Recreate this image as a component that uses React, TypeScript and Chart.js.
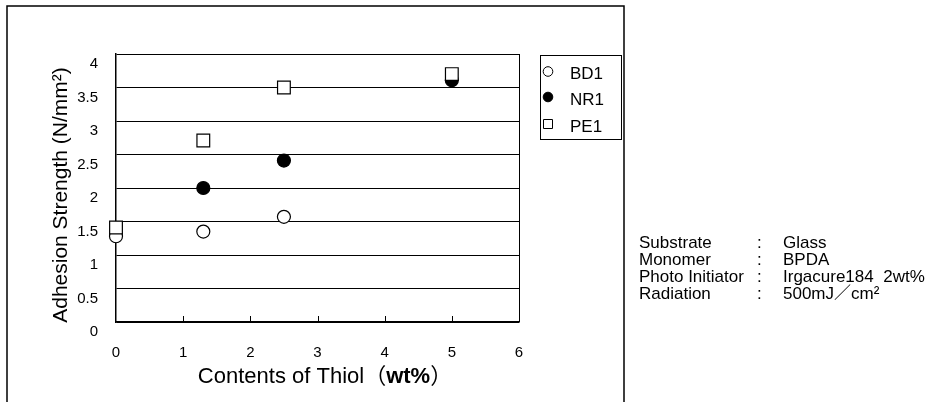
import { useEffect, useRef } from "react";
import { Chart, registerables } from "chart.js";

Chart.register(...registerables);

// Thiol content (wt%) and adhesion strength (N/mm²) per resin
const bd1X = [0, 1.3, 2.5];
const bd1Y = [1.28, 1.35, 1.57];
const nr1X = [1.3, 2.5, 5];
const nr1Y = [2.0, 2.41, 3.61];
const pe1X = [0, 1.3, 2.5, 5];
const pe1Y = [1.41, 2.71, 3.5, 3.7];

const seriesNames = ["BD1", "NR1", "PE1"];

const xTitle = "Contents of Thiol";
const xUnit = "wt%";
const yTitle = "Adhesion Strength (N/mm²)";

const conditionNames = ["Substrate", "Monomer", "Photo Initiator", "Radiation"];
const conditionValues = ["Glass", "BPDA", "Irgacure184  2wt%", "500mJ／cm²"];

const FONT = "'Liberation Sans', Arial, 'Noto Sans CJK JP', sans-serif";

const toPoints = (xs: number[], ys: number[]) => xs.map((x, i) => ({ x, y: ys[i] }));

const decorations = {
  id: "decorations",
  afterDraw(chart: any) {
    const ctx = chart.ctx as CanvasRenderingContext2D;
    const { right, top, bottom } = chart.chartArea;
    const xs = chart.scales.x;
    ctx.save();

    // outer frame
    ctx.strokeStyle = "#000";
    ctx.lineWidth = 1.5;
    ctx.beginPath();
    ctx.moveTo(7, 402);
    ctx.lineTo(7, 6);
    ctx.lineTo(624, 6);
    ctx.lineTo(624, 402);
    ctx.stroke();

    // right edge of plot area and inward x tick marks
    ctx.lineWidth = 1;
    ctx.beginPath();
    ctx.moveTo(right + 0.5, top);
    ctx.lineTo(right + 0.5, bottom);
    for (let v = 1; v <= 5; v++) {
      const px = Math.round(xs.getPixelForValue(v)) + 0.5;
      ctx.moveTo(px, bottom);
      ctx.lineTo(px, bottom - 6);
    }
    ctx.stroke();

    // legend box
    ctx.fillStyle = "#fff";
    ctx.fillRect(540.5, 55.5, 81, 84);
    ctx.strokeRect(540.5, 55.5, 81, 84);
    const rows = [71.5, 97, 124];
    chart.data.datasets.forEach((ds: any, i: number) => {
      const cy = rows[i];
      const cx = 548;
      ctx.lineWidth = 1;
      ctx.strokeStyle = "#000";
      ctx.fillStyle = ds.pointBackgroundColor;
      ctx.beginPath();
      if (ds.pointStyle === "rect") {
        ctx.rect(cx - 4.5, cy - 4.5, 9, 9);
      } else {
        ctx.arc(cx, cy, 4.8, 0, Math.PI * 2);
      }
      ctx.fill();
      ctx.stroke();
      ctx.fillStyle = "#000";
      ctx.font = `17px ${FONT}`;
      ctx.textAlign = "left";
      ctx.textBaseline = "middle";
      ctx.fillText(ds.label, 570, cy + 3);
    });

    // y-axis title
    ctx.fillStyle = "#000";
    ctx.save();
    ctx.translate(61, 195);
    ctx.rotate(-Math.PI / 2);
    ctx.font = `21px ${FONT}`;
    ctx.textAlign = "center";
    ctx.textBaseline = "middle";
    ctx.fillText(yTitle, 0, 0);
    ctx.restore();

    // x-axis title
    ctx.textBaseline = "middle";
    ctx.textAlign = "left";
    const normal = `22px ${FONT}`;
    const bold = `bold 22px ${FONT}`;
    const parts: [string, string][] = [
      [xTitle, normal],
      ["（", normal],
      [xUnit, bold],
      ["）", normal],
    ];
    let total = 0;
    parts.forEach(([t, f]) => {
      ctx.font = f;
      total += ctx.measureText(t).width;
    });
    let tx = 325 - total / 2;
    parts.forEach(([t, f]) => {
      ctx.font = f;
      ctx.fillText(t, tx, 377);
      tx += ctx.measureText(t).width;
    });

    // experimental conditions
    ctx.font = `17px ${FONT}`;
    conditionNames.forEach((name, i) => {
      const y = 243 + i * 17;
      ctx.fillText(name, 639, y);
      ctx.fillText(":", 757, y);
      ctx.fillText(conditionValues[i], 783, y);
    });

    ctx.restore();
  },
};

export default function App() {
  const canvasRef = useRef<HTMLCanvasElement | null>(null);

  useEffect(() => {
    if (!canvasRef.current) return;
    const chart = new Chart(canvasRef.current, {
      type: "scatter",
      data: {
        datasets: [
          {
            label: seriesNames[0],
            data: toPoints(bd1X, bd1Y),
            pointStyle: "circle",
            pointRadius: 6.5,
            pointBackgroundColor: "#fff",
            pointBorderColor: "#000",
            pointBorderWidth: 1.2,
            order: 1,
            clip: false,
          },
          {
            label: seriesNames[1],
            data: toPoints(nr1X, nr1Y),
            pointStyle: "circle",
            pointRadius: 6.5,
            pointBackgroundColor: "#000",
            pointBorderColor: "#000",
            pointBorderWidth: 1.2,
            order: 2,
            clip: false,
          },
          {
            label: seriesNames[2],
            data: toPoints(pe1X, pe1Y),
            pointStyle: "rect",
            pointRadius: 9,
            pointBackgroundColor: "#fff",
            pointBorderColor: "#000",
            pointBorderWidth: 1.2,
            order: 0,
            clip: false,
          },
        ] as any,
      },
      options: {
        animation: false,
        responsive: false,
        devicePixelRatio: 1,
        layout: { padding: { top: 54, right: 424, left: 0, bottom: 0 } },
        plugins: {
          legend: { display: false },
          tooltip: { enabled: false },
          title: { display: false },
        },
        scales: {
          x: {
            type: "linear",
            min: 0,
            max: 6,
            afterFit: (s: any) => {
              s.height = 80;
            },
            ticks: {
              stepSize: 1,
              padding: 22,
              color: "#000",
              font: { family: FONT, size: 15 },
            },
            grid: { drawOnChartArea: false, drawTicks: false },
            border: { display: true, color: "#000", width: 1.5 },
          },
          y: {
            type: "linear",
            min: 0,
            max: 4,
            afterFit: (s: any) => {
              s.width = 116;
            },
            ticks: {
              stepSize: 0.5,
              padding: 18,
              labelOffset: 10,
              color: "#000",
              font: { family: FONT, size: 15 },
              callback: (v: any) => String(v),
            },
            grid: { color: "#000", lineWidth: 1, drawTicks: false },
            border: { display: true, color: "#000", width: 1.5 },
          },
        },
      },
      plugins: [decorations],
    });
    return () => chart.destroy();
  }, []);

  return (
    <div style={{ position: "absolute", left: 0, top: 0, width: 943, height: 402, background: "#fff" }}>
      <canvas ref={canvasRef} width={943} height={402} style={{ width: 943, height: 402 }} />
    </div>
  );
}
